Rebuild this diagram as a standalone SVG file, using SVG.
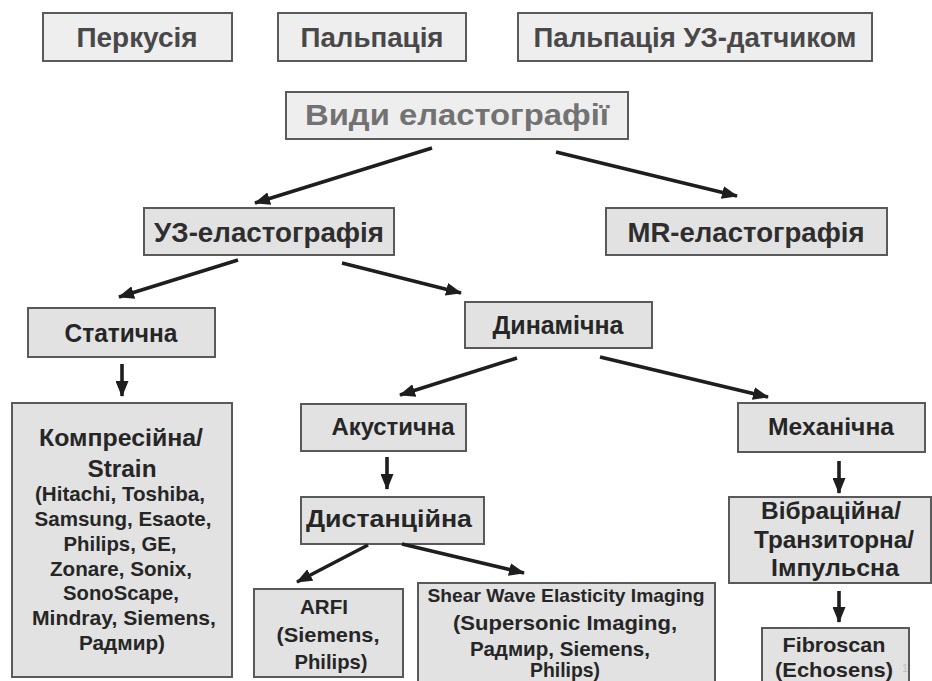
<svg xmlns="http://www.w3.org/2000/svg" width="932" height="681" viewBox="0 0 932 681">
<defs>
<style>
.bx{fill:#e2e2e2;stroke:#595959;stroke-width:2}
.bt{fill:#eeeeee;stroke:#5a5a5a;stroke-width:2}
text{font-family:"Liberation Sans",Arial,sans-serif;font-weight:bold;text-anchor:middle;fill:#262626}
.top{font-size:27px;fill:#484848}
.vid{font-size:29px;fill:#727272}
.n2{font-size:28px;fill:#2e2e2e}
.n3{font-size:26px}
.big{font-size:24px}
.sm{font-size:21px}
.xs{font-size:19px}
.ln{stroke:#1e1e1e;stroke-width:3.6;fill:none;marker-end:url(#ah)}
</style>
<marker id="ah" markerUnits="userSpaceOnUse" viewBox="0 0 16 13" markerWidth="16" markerHeight="13" refX="15" refY="6.5" orient="auto">
<path d="M0,0 L16,6.5 L0,13 z" fill="#1e1e1e"/>
</marker>
</defs>
<rect width="932" height="681" fill="#ffffff"/>

<g id="perkusiya"><rect class="bt" x="43" y="13" width="189" height="48"/><text class="top" x="137" y="47" textLength="121" lengthAdjust="spacingAndGlyphs">Перкусія</text></g>
<g id="palpatsiya"><rect class="bt" x="278" y="13" width="188" height="48"/><text class="top" x="372" y="47" textLength="143" lengthAdjust="spacingAndGlyphs">Пальпація</text></g>
<g id="palpatsiya-uz"><rect class="bt" x="518" y="13" width="354" height="48"/><text class="top" x="695" y="47" textLength="323" lengthAdjust="spacingAndGlyphs">Пальпація УЗ-датчиком</text></g>

<g id="vydy"><rect class="bt" x="286" y="92" width="342" height="47"/><text class="vid" x="457" y="125" textLength="304" lengthAdjust="spacingAndGlyphs">Види еластографії</text></g>

<g id="uz-elasto"><rect class="bx" x="144" y="208" width="250" height="47"/><text class="n2" x="269" y="242" textLength="230" lengthAdjust="spacingAndGlyphs">УЗ-еластографія</text></g>
<g id="mr-elasto"><rect class="bx" x="606" y="208" width="281" height="47"/><text class="n2" x="746" y="242" textLength="237" lengthAdjust="spacingAndGlyphs">MR-еластографія</text></g>

<g id="statychna"><rect class="bx" x="28" y="308" width="187" height="49"/><text class="n3" x="121" y="342" textLength="113" lengthAdjust="spacingAndGlyphs">Статична</text></g>
<g id="dynamichna"><rect class="bx" x="465" y="302" width="187" height="46"/><text class="n3" x="558" y="334" textLength="131" lengthAdjust="spacingAndGlyphs">Динамічна</text></g>

<g id="kompresiyna"><rect class="bx" x="12" y="403" width="220" height="274"/>
<text class="big" x="121" y="446" textLength="164" lengthAdjust="spacingAndGlyphs">Компресійна/</text>
<text class="big" x="122" y="477" textLength="69" lengthAdjust="spacingAndGlyphs">Strain</text>
<text class="sm" x="120" y="501" textLength="170" lengthAdjust="spacingAndGlyphs">(Hitachi, Toshiba,</text>
<text class="sm" x="123" y="526" textLength="177" lengthAdjust="spacingAndGlyphs">Samsung, Esaote,</text>
<text class="sm" x="120" y="551" textLength="113" lengthAdjust="spacingAndGlyphs">Philips, GE,</text>
<text class="sm" x="121" y="576" textLength="142" lengthAdjust="spacingAndGlyphs">Zonare, Sonix,</text>
<text class="sm" x="121" y="600" textLength="116" lengthAdjust="spacingAndGlyphs">SonoScape,</text>
<text class="sm" x="124" y="625" textLength="184" lengthAdjust="spacingAndGlyphs">Mindray, Siemens,</text>
<text class="sm" x="122" y="650" textLength="86" lengthAdjust="spacingAndGlyphs">Радмир)</text>
</g>

<g id="akustychna"><rect class="bx" x="301" y="404" width="165" height="47"/><text class="big" x="393" y="435" textLength="123" lengthAdjust="spacingAndGlyphs">Акустична</text></g>
<g id="dystantsiyna"><rect class="bx" x="301" y="497" width="183" height="47"/><text class="big" x="389" y="527" textLength="166" lengthAdjust="spacingAndGlyphs">Дистанційна</text></g>

<g id="arfi"><rect class="bx" x="254" y="589" width="149" height="88"/>
<text class="sm" x="324" y="614" textLength="48" lengthAdjust="spacingAndGlyphs">ARFI</text>
<text class="sm" x="328" y="642" textLength="103" lengthAdjust="spacingAndGlyphs">(Siemens,</text>
<text class="sm" x="331" y="669" textLength="73" lengthAdjust="spacingAndGlyphs">Philips)</text>
</g>

<g id="shear"><rect class="bx" x="418" y="583" width="297" height="102"/>
<text class="xs" x="566" y="602" textLength="277" lengthAdjust="spacingAndGlyphs">Shear Wave Elasticity Imaging</text>
<text class="sm" x="565" y="630" textLength="224" lengthAdjust="spacingAndGlyphs">(Supersonic Imaging,</text>
<text class="sm" x="560" y="656" textLength="180" lengthAdjust="spacingAndGlyphs">Радмир, Siemens,</text>
<text class="sm" x="565" y="677" textLength="70" lengthAdjust="spacingAndGlyphs">Philips)</text>
</g>

<g id="mekhanichna"><rect class="bx" x="738" y="403" width="187" height="49"/><text class="big" x="831" y="435" textLength="126" lengthAdjust="spacingAndGlyphs">Механічна</text></g>

<g id="vibratsiyna"><rect class="bx" x="729" y="497" width="202" height="86"/>
<text class="big" x="831" y="519" textLength="140" lengthAdjust="spacingAndGlyphs">Вібраційна/</text>
<text class="big" x="834" y="548" textLength="160" lengthAdjust="spacingAndGlyphs">Транзиторна/</text>
<text class="big" x="835" y="576" textLength="128" lengthAdjust="spacingAndGlyphs">Імпульсна</text>
</g>

<g id="fibroscan"><rect class="bx" x="762" y="628" width="147" height="60"/>
<text class="sm" x="834" y="652" textLength="103" lengthAdjust="spacingAndGlyphs">Fibroscan</text>
<text class="sm" x="834" y="677" textLength="118" lengthAdjust="spacingAndGlyphs">(Echosens)</text>
</g>

<g id="page-num"><text x="905" y="672" style="font-size:11px;fill:#c0c0c0;font-weight:normal">1</text></g>

<g id="connectors">
<line class="ln" x1="432" y1="148" x2="255" y2="203"/>
<line class="ln" x1="556" y1="152" x2="737" y2="196"/>
<line class="ln" x1="238" y1="260" x2="119" y2="297"/>
<line class="ln" x1="342" y1="263" x2="461" y2="293"/>
<line class="ln" x1="122" y1="364" x2="122" y2="396"/>
<line class="ln" x1="517" y1="358" x2="400" y2="395"/>
<line class="ln" x1="600" y1="357" x2="768" y2="397"/>
<line class="ln" x1="387" y1="457" x2="387" y2="489"/>
<line class="ln" x1="368" y1="545" x2="297" y2="582"/>
<line class="ln" x1="402" y1="544" x2="524" y2="573"/>
<line class="ln" x1="839" y1="461" x2="839" y2="493"/>
<line class="ln" x1="839" y1="591" x2="839" y2="622"/>
</g>
</svg>
